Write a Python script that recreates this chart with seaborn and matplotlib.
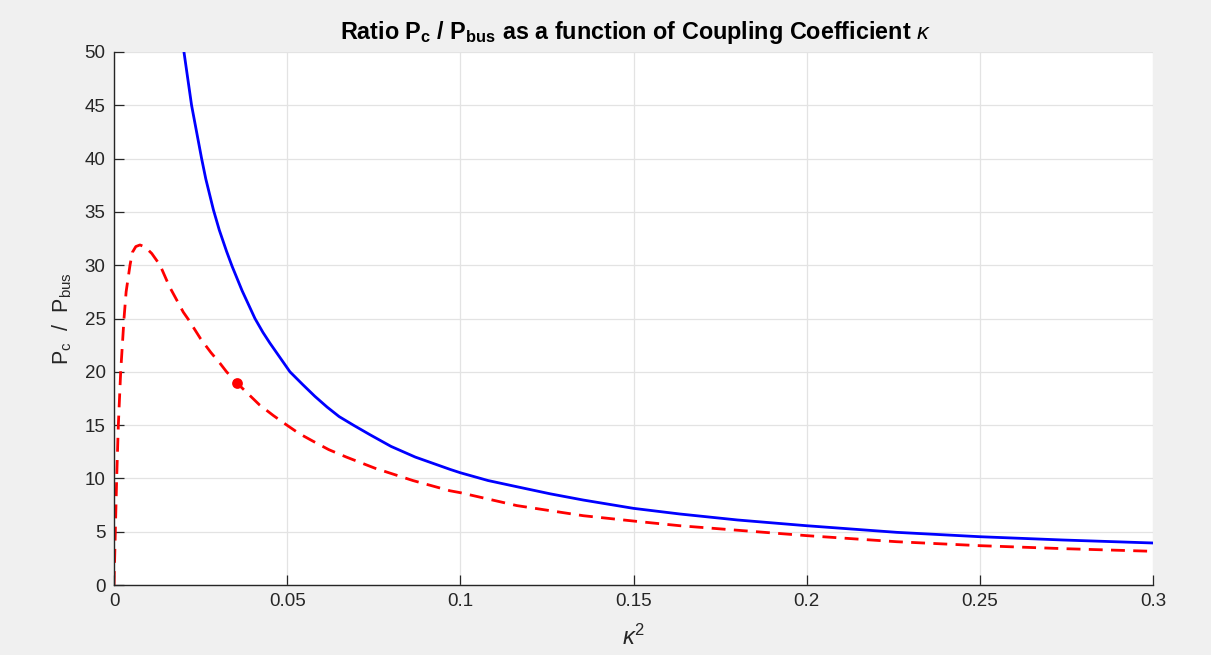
import matplotlib
matplotlib.use("Agg")
import matplotlib.pyplot as plt
import seaborn as sns
import pandas as pd

# ---- data ----
blue_k2 = [0.0202, 0.0224, 0.0253, 0.0265, 0.0287, 0.0304, 0.0325, 0.0341, 0.0370,
           0.0407, 0.0430, 0.0450, 0.0508, 0.0545, 0.0580, 0.0615, 0.0650, 0.0691,
           0.0739, 0.0800, 0.0870, 0.0970, 0.1000, 0.1080, 0.1163, 0.1260, 0.1355,
           0.1500, 0.1634, 0.1800, 0.2000, 0.2260, 0.2500, 0.2741, 0.3000]
blue_ratio = [50.0, 45.0, 40.0, 38.1, 35.2, 33.3, 31.3, 29.9, 27.6,
              25.0, 23.7, 22.7, 20.0, 18.8, 17.7, 16.7, 15.8, 15.0,
              14.1, 13.0, 12.0, 10.85, 10.53, 9.8, 9.22, 8.55, 7.97,
              7.19, 6.66, 6.1, 5.56, 4.94, 4.53, 4.22, 3.94]

red_k2 = [0.0, 0.00038, 0.00077, 0.00125, 0.00193, 0.00289, 0.0035, 0.00462, 0.0053,
          0.0063, 0.0075, 0.0090, 0.0109, 0.0133, 0.0160, 0.0200, 0.0215, 0.0250,
          0.0280, 0.0306, 0.0325, 0.0356, 0.0420, 0.0460, 0.0499, 0.0535, 0.0574,
          0.0620, 0.0671, 0.0754, 0.0863, 0.0970, 0.1000, 0.1163, 0.1355, 0.1500,
          0.1634, 0.2000, 0.2260, 0.2500, 0.2741, 0.3000]
red_ratio = [0.0, 5.0, 10.0, 15.0, 20.0, 25.0, 27.5, 30.0, 31.2,
             31.75, 31.9, 31.7, 31.1, 30.0, 28.0, 25.6, 24.9, 23.1,
             21.8, 20.8, 20.0, 18.92, 16.9, 15.9, 15.0, 14.2, 13.5,
             12.7, 12.0, 10.95, 9.8, 8.84, 8.66, 7.45, 6.5, 6.0,
             5.56, 4.63, 4.06, 3.69, 3.41, 3.16]

marker_k2 = [0.0356]
marker_ratio = [18.92]

x_ticks = [0, 0.05, 0.1, 0.15, 0.2, 0.25, 0.3]
x_tick_labels = ["0", "0.05", "0.1", "0.15", "0.2", "0.25", "0.3"]
y_ticks = [0, 5, 10, 15, 20, 25, 30, 35, 40, 45, 50]
y_tick_labels = ["0", "5", "10", "15", "20", "25", "30", "35", "40", "45", "50"]

# ---- style ----
sns.set_theme(style="white")
plt.rcParams["font.family"] = ["Liberation Sans", "DejaVu Sans"]
plt.rcParams["mathtext.fontset"] = "custom"
plt.rcParams["mathtext.rm"] = "Liberation Sans"
plt.rcParams["mathtext.it"] = "Liberation Sans:italic"
plt.rcParams["mathtext.bf"] = "Liberation Sans:bold"

fig = plt.figure(figsize=(12.11, 6.55), dpi=100, facecolor="#f0f0f0")
ax = fig.add_axes([114 / 1211, 1 - 585 / 655, (1153 - 114) / 1211, (585 - 52) / 655])
ax.set_facecolor("white")

blue_df = pd.DataFrame({"k2": blue_k2, "ratio": blue_ratio})
red_df = pd.DataFrame({"k2": red_k2, "ratio": red_ratio})
mk_df = pd.DataFrame({"k2": marker_k2, "ratio": marker_ratio})

sns.lineplot(data=blue_df, x="k2", y="ratio", ax=ax, color="#0000ff",
             linewidth=2.0, sort=False, estimator=None)
sns.lineplot(data=red_df, x="k2", y="ratio", ax=ax, color="#ff0000",
             linewidth=2.0, sort=False, estimator=None, linestyle=(0, (5, 3)))
sns.scatterplot(data=mk_df, x="k2", y="ratio", ax=ax, color="#ff0000",
                s=60, edgecolor="#ff0000", linewidth=0, zorder=5)

ax.set_xlim(0, 0.3)
ax.set_ylim(0, 50)
ax.set_xticks(x_ticks)
ax.set_xticklabels(x_tick_labels)
ax.set_yticks(y_ticks)
ax.set_yticklabels(y_tick_labels)

ax.grid(True, color="#e3e3e3", linewidth=0.9)
ax.set_axisbelow(True)
for side in ["top", "right"]:
    ax.spines[side].set_visible(False)
for side in ["left", "bottom"]:
    ax.spines[side].set_color("#262626")
    ax.spines[side].set_linewidth(1.0)
ax.tick_params(axis="both", direction="in", length=7, width=0.9,
               colors="#262626", labelsize=13.5, pad=6, left=True, bottom=True)

ax.set_xlabel(r"$\kappa^2$", fontsize=17, color="#262626", labelpad=10)
ax.set_ylabel(r"P$_\mathregular{c}$  /  P$_\mathregular{bus}$", fontsize=15.5,
              color="#262626", labelpad=8)
fig.text(635.5 / 1211, 1 - 39 / 655,
         r"Ratio P$_\mathbf{c}$ / P$_\mathbf{bus}$ as a function of Coupling Coefficient $\kappa$",
         fontsize=16.8, fontweight="bold", color="black", ha="center", va="baseline")

fig.savefig("out.png", dpi=100, facecolor=fig.get_facecolor())
